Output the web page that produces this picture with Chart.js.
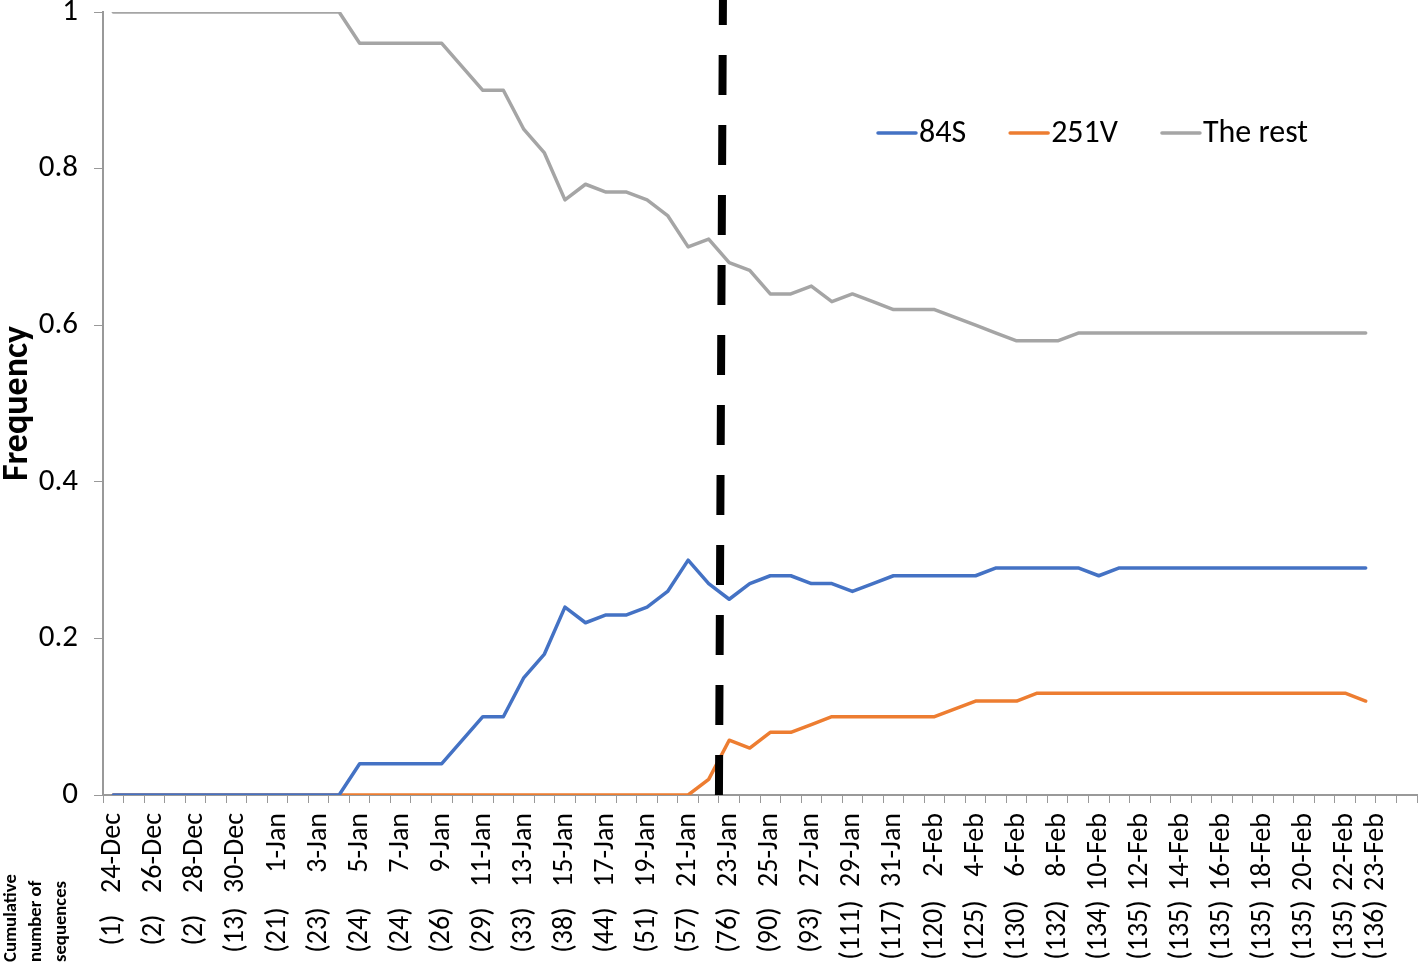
<!DOCTYPE html>
<html>
<head>
<meta charset="utf-8">
<script src="https://cdn.jsdelivr.net/npm/chart.js@4.4.1/dist/chart.umd.min.js"></script>
<style>
  html, body { margin: 0; padding: 0; background: #fff; }
</style>
</head>
<body>
<canvas id="chart" width="1418" height="968"></canvas>
<script>
// categories: one per day, two empty slots at the end of the axis
const categories = [
  '24-Dec', '25-Dec', '26-Dec', '27-Dec', '28-Dec', '29-Dec', '30-Dec', '31-Dec',
  '1-Jan', '2-Jan', '3-Jan', '4-Jan', '5-Jan', '6-Jan', '7-Jan', '8-Jan', '9-Jan', '10-Jan',
  '11-Jan', '12-Jan', '13-Jan', '14-Jan', '15-Jan', '16-Jan', '17-Jan', '18-Jan', '19-Jan', '20-Jan',
  '21-Jan', '22-Jan', '23-Jan', '24-Jan', '25-Jan', '26-Jan', '27-Jan', '28-Jan', '29-Jan', '30-Jan',
  '31-Jan', '1-Feb', '2-Feb', '3-Feb', '4-Feb', '5-Feb', '6-Feb', '7-Feb', '8-Feb', '9-Feb',
  '10-Feb', '11-Feb', '12-Feb', '13-Feb', '14-Feb', '15-Feb', '16-Feb', '17-Feb', '18-Feb', '19-Feb',
  '20-Feb', '21-Feb', '22-Feb', '23-Feb', '', ''
];

// cumulative number of sequences (only for labelled days)
const cumulative = [
  1, null, 2, null, 2, null, 13, null,
  21, null, 23, null, 24, null, 24, null, 26, null,
  29, null, 33, null, 38, null, 44, null, 51, null,
  57, null, 76, null, 90, null, 93, null, 111, null,
  117, null, 120, null, 125, null, 130, null, 132, null,
  134, null, 135, null, 135, null, 135, null, 135, null,
  135, null, 135, 136
];

const s84S = [
  0, 0, 0, 0, 0, 0, 0, 0, 0, 0, 0, 0,
  0.04, 0.04, 0.04, 0.04, 0.04, 0.07, 0.10, 0.10, 0.15, 0.18,
  0.24, 0.22, 0.23, 0.23, 0.24, 0.26, 0.30, 0.27, 0.25, 0.27,
  0.28, 0.28, 0.27, 0.27, 0.26, 0.27, 0.28, 0.28, 0.28, 0.28,
  0.28, 0.29, 0.29, 0.29, 0.29, 0.29, 0.28, 0.29, 0.29, 0.29,
  0.29, 0.29, 0.29, 0.29, 0.29, 0.29, 0.29, 0.29, 0.29, 0.29
];

const s251V = [
  0, 0, 0, 0, 0, 0, 0, 0, 0, 0, 0, 0, 0, 0, 0, 0, 0, 0,
  0, 0, 0, 0, 0, 0, 0, 0, 0, 0, 0, 0.02, 0.07, 0.06,
  0.08, 0.08, 0.09, 0.10, 0.10, 0.10, 0.10, 0.10, 0.10, 0.11,
  0.12, 0.12, 0.12, 0.13, 0.13, 0.13, 0.13, 0.13, 0.13, 0.13,
  0.13, 0.13, 0.13, 0.13, 0.13, 0.13, 0.13, 0.13, 0.13, 0.12
];

const theRest = [
  1, 1, 1, 1, 1, 1, 1, 1, 1, 1, 1, 1,
  0.96, 0.96, 0.96, 0.96, 0.96, 0.93, 0.90, 0.90, 0.85, 0.82,
  0.76, 0.78, 0.77, 0.77, 0.76, 0.74, 0.70, 0.71, 0.68, 0.67,
  0.64, 0.64, 0.65, 0.63, 0.64, 0.63, 0.62, 0.62, 0.62, 0.61,
  0.60, 0.59, 0.58, 0.58, 0.58, 0.59, 0.59, 0.59, 0.59, 0.59,
  0.59, 0.59, 0.59, 0.59, 0.59, 0.59, 0.59, 0.59, 0.59, 0.59
];

const yTicks = [0, 0.2, 0.4, 0.6, 0.8, 1];
const sideNote = ['Cumulative', 'number of', 'sequences'];

const FONT = 'Carlito, Lato, "Open Sans", sans-serif';
const AXIS_GREY = '#999999';
const LABEL_SIZE = 28;
const LAST = categories.indexOf('23-Feb');
const LAST_SHIFT = 10;   // last label sits a bit to the right in the original

// dashed marker between 22-Jan and 23-Jan
const markerLine = {
    id: 'markerLine',
    afterDatasetsDraw(chart) {
        const x = chart.scales.x;
        const ctx = chart.ctx;
        const i = categories.indexOf('23-Jan');
        const mid = (x.getPixelForTick(i - 1) + x.getPixelForTick(i)) / 2;
        ctx.save();
        ctx.strokeStyle = '#000';
        ctx.lineWidth = 8;
        ctx.setLineDash([40, 30]);
        ctx.beginPath();
        ctx.moveTo(mid, chart.chartArea.bottom);
        ctx.lineTo(mid + 4, 0);
        ctx.stroke();
        ctx.restore();
    }
};

// second row of x labels: cumulative counts, centred in their own band
const countLabels = {
    id: 'countLabels',
    afterDraw(chart) {
        const x = chart.scales.x;
        const ctx = chart.ctx;
        ctx.save();
        ctx.fillStyle = '#000';
        ctx.font = LABEL_SIZE + 'px ' + FONT;
        ctx.textAlign = 'center';
        ctx.textBaseline = 'middle';
        cumulative.forEach((n, i) => {
            if (n === null) return;
            ctx.save();
            ctx.translate(x.getPixelForTick(i) + (i === LAST ? LAST_SHIFT : 0), 930);
            ctx.rotate(-Math.PI / 2);
            ctx.fillText('(' + n + ')', 0, 0);
            ctx.restore();
        });
        // the little note at bottom left
        ctx.font = 'bold 18.7px ' + FONT;
        ctx.textAlign = 'left';
        sideNote.forEach((t, k) => {
            ctx.save();
            ctx.translate(11 + k * 25, 962);
            ctx.rotate(-Math.PI / 2);
            ctx.fillText(t, 0, 0);
            ctx.restore();
        });
        ctx.restore();
    }
};

// legend drawn inside the plot, top right
const innerLegend = {
    id: 'innerLegend',
    afterDraw(chart) {
        const ctx = chart.ctx;
        let px = 878;
        const py = 133;
        ctx.save();
        ctx.font = '32px ' + FONT;
        ctx.textBaseline = 'middle';
        ctx.textAlign = 'left';
        chart.data.datasets.forEach(ds => {
            ctx.strokeStyle = ds.borderColor;
            ctx.lineWidth = 3.5;
            ctx.lineCap = 'round';
            ctx.beginPath();
            ctx.moveTo(px, py);
            ctx.lineTo(px + 38, py);
            ctx.stroke();
            px += 41;
            ctx.fillStyle = '#000';
            ctx.fillText(ds.label, px, py + 1);
            px += ctx.measureText(ds.label).width + 44;
        });
        ctx.restore();
    }
};

function lineSet(label, data, color) {
    return {
        label: label,
        data: data,
        borderColor: color,
        backgroundColor: color,
        borderWidth: 3.5,
        pointRadius: 0,
        tension: 0,
        borderCapStyle: 'round',
        borderJoinStyle: 'round',
        fill: false
    };
}

new Chart(document.getElementById('chart'), {
    type: 'line',
    data: {
        labels: categories,
        datasets: [
            lineSet('84S', s84S, '#4472C4'),
            lineSet('251V', s251V, '#ED7D31'),
            lineSet('The rest', theRest, '#A5A5A5')
        ]
    },
    options: {
        responsive: false,
        animation: false,
        layout: { padding: { top: 12, right: 1, left: 0, bottom: 0 } },
        plugins: {
            legend: { display: false },
            tooltip: { enabled: false }
        },
        scales: {
            x: {
                type: 'category',
                offset: true,
                grid: {
                    offset: true,
                    drawOnChartArea: false,
                    drawTicks: true,
                    tickLength: 8,
                    color: AXIS_GREY
                },
                border: { display: true, color: AXIS_GREY, width: 2 },
                ticks: {
                    autoSkip: false,
                    maxRotation: 90,
                    minRotation: 90,
                    padding: 10,
                    color: '#000',
                    // the last label uses a second, thin line to nudge it right
                    font: (c) => ({
                        family: FONT,
                        size: LABEL_SIZE,
                        lineHeight: c.index === LAST ? LAST_SHIFT / LABEL_SIZE : 1.2
                    }),
                    callback: (value, index) => {
                        if (cumulative[index] === null || cumulative[index] === undefined) return '';
                        return index === LAST ? ['', categories[index]] : categories[index];
                    }
                },
                afterFit: (s) => {
                    s.height = 173;
                    s.paddingLeft = 0;
                    s.paddingRight = 0;
                }
            },
            y: {
                min: 0,
                max: 1,
                afterBuildTicks: (s) => {
                    s.ticks = yTicks.map(v => ({ value: v }));
                },
                grid: {
                    drawOnChartArea: false,
                    drawTicks: true,
                    tickLength: 9,
                    color: AXIS_GREY
                },
                border: { display: true, color: AXIS_GREY, width: 2 },
                ticks: {
                    padding: 16,
                    color: '#000',
                    font: { family: FONT, size: 31, lineHeight: 0.75 },
                    callback: (v) => String(v)
                },
                title: {
                    display: true,
                    text: 'Frequency',
                    color: '#000',
                    font: { family: FONT, size: 36, weight: 'bold', lineHeight: 1 },
                    padding: { top: 0, bottom: 0 }
                },
                afterFit: (s) => {
                    s.width = 103;
                    s.paddingTop = 0;
                    s.paddingBottom = 0;
                }
            }
        }
    },
    plugins: [markerLine, countLabels, innerLegend]
});
</script>
</body>
</html>
